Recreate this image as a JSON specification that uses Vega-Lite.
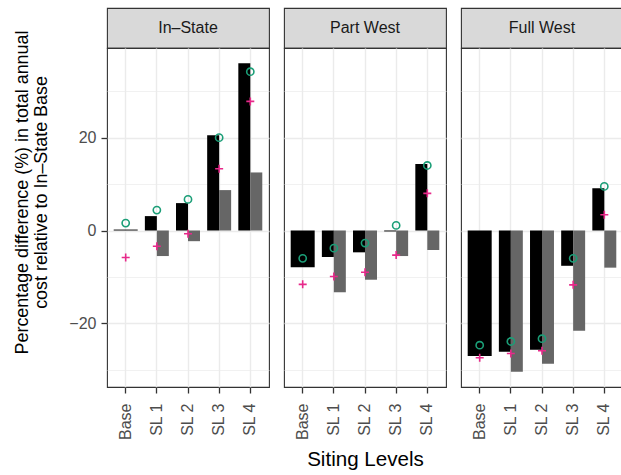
{
  "$schema": "https://vega.github.io/schema/vega-lite/v6.json",
  "background": "white",
  "padding": {"left": 13, "top": 7, "right": 0, "bottom": 0},
  "config": {
    "font": "Liberation Sans",
    "view": {"stroke": "#333333", "strokeWidth": 1.1},
    "concat": {"spacing": 13}
  },
  "data": {
    "values": [
      {"region": "In-State", "level": "Base", "series": "A", "value": 0.2},
      {"region": "In-State", "level": "Base", "series": "circle", "value": 1.6},
      {"region": "In-State", "level": "Base", "series": "plus", "value": -5.8},
      {"region": "In-State", "level": "SL 1", "series": "A", "value": 3.1},
      {"region": "In-State", "level": "SL 1", "series": "B", "value": -5.5},
      {"region": "In-State", "level": "SL 1", "series": "circle", "value": 4.4},
      {"region": "In-State", "level": "SL 1", "series": "plus", "value": -3.4},
      {"region": "In-State", "level": "SL 2", "series": "A", "value": 5.9},
      {"region": "In-State", "level": "SL 2", "series": "B", "value": -2.3},
      {"region": "In-State", "level": "SL 2", "series": "circle", "value": 6.7},
      {"region": "In-State", "level": "SL 2", "series": "plus", "value": -0.7},
      {"region": "In-State", "level": "SL 3", "series": "A", "value": 20.5},
      {"region": "In-State", "level": "SL 3", "series": "B", "value": 8.7},
      {"region": "In-State", "level": "SL 3", "series": "circle", "value": 20.0},
      {"region": "In-State", "level": "SL 3", "series": "plus", "value": 13.3},
      {"region": "In-State", "level": "SL 4", "series": "A", "value": 36.0},
      {"region": "In-State", "level": "SL 4", "series": "B", "value": 12.5},
      {"region": "In-State", "level": "SL 4", "series": "circle", "value": 34.2},
      {"region": "In-State", "level": "SL 4", "series": "plus", "value": 27.8},
      {"region": "Part West", "level": "Base", "series": "A", "value": -7.9},
      {"region": "Part West", "level": "Base", "series": "circle", "value": -6.0},
      {"region": "Part West", "level": "Base", "series": "plus", "value": -11.6},
      {"region": "Part West", "level": "SL 1", "series": "A", "value": -5.7},
      {"region": "Part West", "level": "SL 1", "series": "B", "value": -13.3},
      {"region": "Part West", "level": "SL 1", "series": "circle", "value": -3.8},
      {"region": "Part West", "level": "SL 1", "series": "plus", "value": -9.9},
      {"region": "Part West", "level": "SL 2", "series": "A", "value": -4.7},
      {"region": "Part West", "level": "SL 2", "series": "B", "value": -10.6},
      {"region": "Part West", "level": "SL 2", "series": "circle", "value": -2.7},
      {"region": "Part West", "level": "SL 2", "series": "plus", "value": -9.0},
      {"region": "Part West", "level": "SL 3", "series": "A", "value": -0.2},
      {"region": "Part West", "level": "SL 3", "series": "B", "value": -5.5},
      {"region": "Part West", "level": "SL 3", "series": "circle", "value": 1.1},
      {"region": "Part West", "level": "SL 3", "series": "plus", "value": -5.3},
      {"region": "Part West", "level": "SL 4", "series": "A", "value": 14.3},
      {"region": "Part West", "level": "SL 4", "series": "B", "value": -4.2},
      {"region": "Part West", "level": "SL 4", "series": "circle", "value": 14.0},
      {"region": "Part West", "level": "SL 4", "series": "plus", "value": 8.0},
      {"region": "Full West", "level": "Base", "series": "A", "value": -27.0},
      {"region": "Full West", "level": "Base", "series": "circle", "value": -24.7},
      {"region": "Full West", "level": "Base", "series": "plus", "value": -27.4},
      {"region": "Full West", "level": "SL 1", "series": "A", "value": -26.1},
      {"region": "Full West", "level": "SL 1", "series": "B", "value": -30.4},
      {"region": "Full West", "level": "SL 1", "series": "circle", "value": -23.9},
      {"region": "Full West", "level": "SL 1", "series": "plus", "value": -26.5},
      {"region": "Full West", "level": "SL 2", "series": "A", "value": -25.7},
      {"region": "Full West", "level": "SL 2", "series": "B", "value": -28.7},
      {"region": "Full West", "level": "SL 2", "series": "circle", "value": -23.3},
      {"region": "Full West", "level": "SL 2", "series": "plus", "value": -25.9},
      {"region": "Full West", "level": "SL 3", "series": "A", "value": -7.6},
      {"region": "Full West", "level": "SL 3", "series": "B", "value": -21.6},
      {"region": "Full West", "level": "SL 3", "series": "circle", "value": -6.0},
      {"region": "Full West", "level": "SL 3", "series": "plus", "value": -11.7},
      {"region": "Full West", "level": "SL 4", "series": "A", "value": 9.1},
      {"region": "Full West", "level": "SL 4", "series": "B", "value": -8.0},
      {"region": "Full West", "level": "SL 4", "series": "circle", "value": 9.5},
      {"region": "Full West", "level": "SL 4", "series": "plus", "value": 3.4}
    ]
  },
  "hconcat": [
    {
      "vconcat": [
        {
          "data": {"values": [{"label": "In–State"}]},
          "width": 162, "height": 40,
          "view": {"fill": "#d9d9d9", "stroke": "#333333", "strokeWidth": 1.1},
          "mark": {"type": "text", "fontSize": 16, "color": "#1a1a1a"},
          "encoding": {"text": {"field": "label", "type": "nominal"}}
        },
        {
          "width": 162, "height": 339,
          "transform": [{"filter": "datum.region == 'In-State'"}],
          "encoding": {
            "x": {"field": "level", "type": "nominal",
              "scale": {"type": "band", "domain": ["Base", "SL 1", "SL 2", "SL 3", "SL 4"], "paddingInner": 0, "paddingOuter": 0.1},
              "axis": {"title": null, "labelAngle": -90, "labelFontSize": 16, "labelColor": "#4d4d4d", "labelPadding": 10, "tickColor": "#333333", "tickSize": 6, "tickWidth": 1.3, "domain": false, "grid": true, "gridColor": "#ebebeb", "gridWidth": 1.4}},
            "y": {"field": "value", "type": "quantitative",
              "scale": {"domain": [-33.7, 39.3], "nice": false},
              "axis": {"values": [-30, -20, -10, 0, 10, 20, 30], "labelExpr": "datum.value % 20 == 0 ? datum.label : ''", "labelOverlap": false, "labelFontSize": 16, "labelColor": "#4d4d4d", "labelPadding": 5, "tickColor": "#333333", "tickSize": 6, "tickWidth": 1.3, "tickOpacity": {"condition": {"test": "datum.value % 20 == 0", "value": 1}, "value": 0}, "domain": false, "grid": true, "gridColor": "#ebebeb", "gridWidth": {"condition": {"test": "datum.value % 20 == 0", "value": 1.4}, "value": 0.7}, "title": ["Percentage difference (%) in total annual", "cost relative to In–State Base"], "titleFontSize": 17.9, "titleFontWeight": "normal", "titleColor": "#000000", "titlePadding": 18, "titleLineHeight": 19, "titleY": 144}}
          },
          "layer": [
            {"transform": [{"filter": "datum.series == 'A' && datum.level == 'Base'"}], "mark": {"type": "bar", "width": {"band": 0.77}, "color": "#000000"}},
            {"transform": [{"filter": "(datum.series == 'A' || datum.series == 'B') && datum.level != 'Base'"}], "mark": {"type": "bar"},
              "encoding": {"xOffset": {"field": "series", "type": "nominal", "scale": {"domain": ["A", "B"], "paddingInner": 0, "paddingOuter": 0.3}},
                "color": {"field": "series", "type": "nominal", "scale": {"domain": ["A", "B"], "range": ["#000000", "#666666"]}, "legend": null}}},
            {"transform": [{"filter": "datum.series == 'circle'"}], "mark": {"type": "point", "shape": "circle", "filled": false, "color": "#1b9e77", "size": 52, "strokeWidth": 1.6, "opacity": 1}},
            {"transform": [{"filter": "datum.series == 'plus'"}], "mark": {"type": "point", "shape": "M-1,0H1M0,-1V1", "filled": false, "color": "#e7298a", "size": 64, "strokeWidth": 1.6, "opacity": 1}}
          ]
        }
      ],
      "spacing": 0,
      "bounds": "flush"
    },
    {
      "vconcat": [
        {
          "data": {"values": [{"label": "Part West"}]},
          "width": 162, "height": 40,
          "view": {"fill": "#d9d9d9", "stroke": "#333333", "strokeWidth": 1.1},
          "mark": {"type": "text", "fontSize": 16, "color": "#1a1a1a"},
          "encoding": {"text": {"field": "label", "type": "nominal"}}
        },
        {
          "width": 162, "height": 339,
          "transform": [{"filter": "datum.region == 'Part West'"}],
          "encoding": {
            "x": {"field": "level", "type": "nominal",
              "scale": {"type": "band", "domain": ["Base", "SL 1", "SL 2", "SL 3", "SL 4"], "paddingInner": 0, "paddingOuter": 0.1},
              "axis": {"title": "Siting Levels", "titleFontSize": 20.6, "titleFontWeight": "normal", "titleColor": "#000000", "titlePadding": 10, "labelAngle": -90, "labelFontSize": 16, "labelColor": "#4d4d4d", "labelPadding": 10, "tickColor": "#333333", "tickSize": 6, "tickWidth": 1.3, "domain": false, "grid": true, "gridColor": "#ebebeb", "gridWidth": 1.4}},
            "y": {"field": "value", "type": "quantitative",
              "scale": {"domain": [-33.7, 39.3], "nice": false},
              "axis": {"values": [-30, -20, -10, 0, 10, 20, 30], "labels": false, "ticks": false, "domain": false, "title": null, "grid": true, "gridColor": "#ebebeb", "gridWidth": {"condition": {"test": "datum.value % 20 == 0", "value": 1.4}, "value": 0.7}}}
          },
          "layer": [
            {"transform": [{"filter": "datum.series == 'A' && datum.level == 'Base'"}], "mark": {"type": "bar", "width": {"band": 0.77}, "color": "#000000"}},
            {"transform": [{"filter": "(datum.series == 'A' || datum.series == 'B') && datum.level != 'Base'"}], "mark": {"type": "bar"},
              "encoding": {"xOffset": {"field": "series", "type": "nominal", "scale": {"domain": ["A", "B"], "paddingInner": 0, "paddingOuter": 0.3}},
                "color": {"field": "series", "type": "nominal", "scale": {"domain": ["A", "B"], "range": ["#000000", "#666666"]}, "legend": null}}},
            {"transform": [{"filter": "datum.series == 'circle'"}], "mark": {"type": "point", "shape": "circle", "filled": false, "color": "#1b9e77", "size": 52, "strokeWidth": 1.6, "opacity": 1}},
            {"transform": [{"filter": "datum.series == 'plus'"}], "mark": {"type": "point", "shape": "M-1,0H1M0,-1V1", "filled": false, "color": "#e7298a", "size": 64, "strokeWidth": 1.6, "opacity": 1}}
          ]
        }
      ],
      "spacing": 0,
      "bounds": "flush"
    },
    {
      "vconcat": [
        {
          "data": {"values": [{"label": "Full West"}]},
          "width": 162, "height": 40,
          "view": {"fill": "#d9d9d9", "stroke": "#333333", "strokeWidth": 1.1},
          "mark": {"type": "text", "fontSize": 16, "color": "#1a1a1a"},
          "encoding": {"text": {"field": "label", "type": "nominal"}}
        },
        {
          "width": 162, "height": 339,
          "transform": [{"filter": "datum.region == 'Full West'"}],
          "encoding": {
            "x": {"field": "level", "type": "nominal",
              "scale": {"type": "band", "domain": ["Base", "SL 1", "SL 2", "SL 3", "SL 4"], "paddingInner": 0, "paddingOuter": 0.1},
              "axis": {"title": null, "labelAngle": -90, "labelFontSize": 16, "labelColor": "#4d4d4d", "labelPadding": 10, "tickColor": "#333333", "tickSize": 6, "tickWidth": 1.3, "domain": false, "grid": true, "gridColor": "#ebebeb", "gridWidth": 1.4}},
            "y": {"field": "value", "type": "quantitative",
              "scale": {"domain": [-33.7, 39.3], "nice": false},
              "axis": {"values": [-30, -20, -10, 0, 10, 20, 30], "labels": false, "ticks": false, "domain": false, "title": null, "grid": true, "gridColor": "#ebebeb", "gridWidth": {"condition": {"test": "datum.value % 20 == 0", "value": 1.4}, "value": 0.7}}}
          },
          "layer": [
            {"transform": [{"filter": "datum.series == 'A' && datum.level == 'Base'"}], "mark": {"type": "bar", "width": {"band": 0.77}, "color": "#000000"}},
            {"transform": [{"filter": "(datum.series == 'A' || datum.series == 'B') && datum.level != 'Base'"}], "mark": {"type": "bar"},
              "encoding": {"xOffset": {"field": "series", "type": "nominal", "scale": {"domain": ["A", "B"], "paddingInner": 0, "paddingOuter": 0.3}},
                "color": {"field": "series", "type": "nominal", "scale": {"domain": ["A", "B"], "range": ["#000000", "#666666"]}, "legend": null}}},
            {"transform": [{"filter": "datum.series == 'circle'"}], "mark": {"type": "point", "shape": "circle", "filled": false, "color": "#1b9e77", "size": 52, "strokeWidth": 1.6, "opacity": 1}},
            {"transform": [{"filter": "datum.series == 'plus'"}], "mark": {"type": "point", "shape": "M-1,0H1M0,-1V1", "filled": false, "color": "#e7298a", "size": 64, "strokeWidth": 1.6, "opacity": 1}}
          ]
        }
      ],
      "spacing": 0,
      "bounds": "flush"
    }
  ],
  "align": "each"
}
